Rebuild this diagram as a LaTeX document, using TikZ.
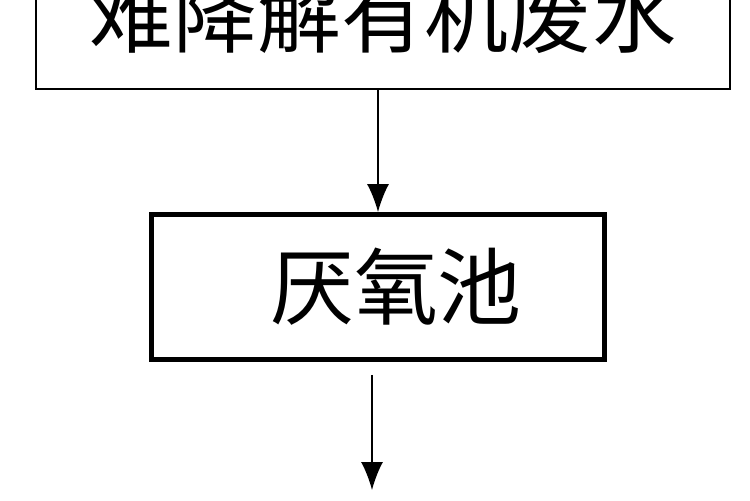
\documentclass[tikz,border=0pt]{standalone}
\usepackage{fontspec}
\newfontfamily\cjk{Noto Sans CJK SC}
\usetikzlibrary{positioning,arrows.meta}

\begin{document}
\begin{tikzpicture}[x=0.02cm,y=-0.02cm,
    box/.style={draw,inner sep=0pt,font=\cjk\fontsize{47.8}{50}\selectfont},
    flow/.style={line width=0.9pt,-{Latex[length=0.56cm,width=0.44cm]}}]
  \useasboundingbox (0,0) rectangle (750,500);
  \node[box,line width=1.4pt,minimum width=13.88cm,minimum height=2.96cm](water) at (383,15){难降解有机废水};
  \node[box,line width=2.8pt,minimum width=9.06cm,minimum height=2.9cm](tank) at (378,287){\hspace*{0.72cm}厌氧池};
  \coordinate (out) at (372,490);
  \draw[flow] (water.south -| tank.north) -- (tank.north);
  \draw[flow] ([yshift=-0.26cm]tank.south -| out) -- (out);
\end{tikzpicture}
\end{document}
